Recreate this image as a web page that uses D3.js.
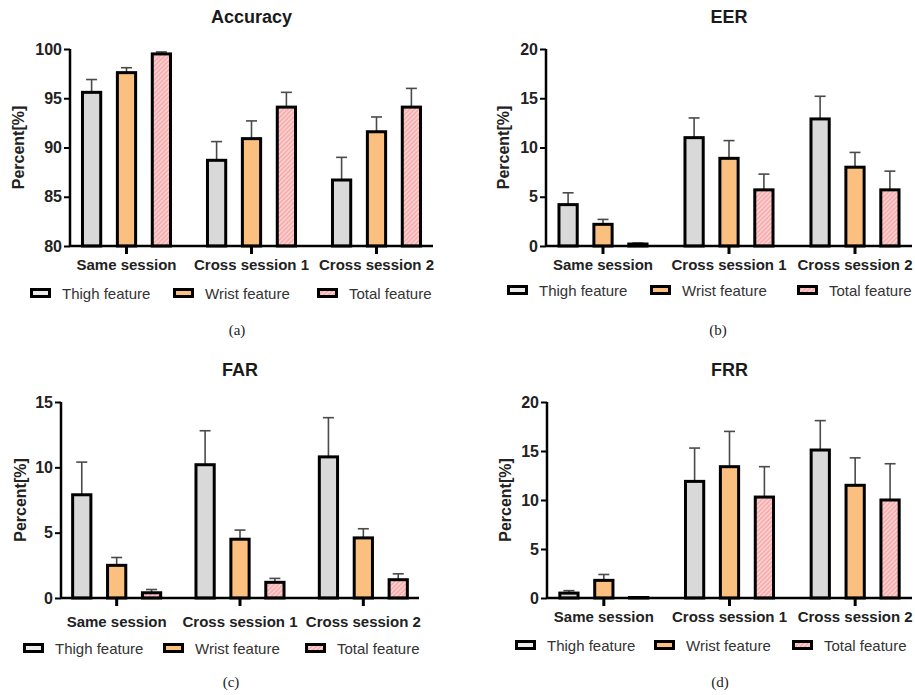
<!DOCTYPE html>
<html>
<head>
<meta charset="utf-8">
<script src="https://cdn.jsdelivr.net/npm/d3@7"></script>
<style>
  html, body { margin: 0; padding: 0; background: #fff; }
  svg { display: block; }
  text { font-family: "Liberation Sans", Arial, sans-serif; }
</style>
</head>
<body>
<svg id="fig" width="915" height="695"></svg>
<script>
// Sessions on the x axis and the three feature sets in each group
const categories = ["Same session", "Cross session 1", "Cross session 2"];
const seriesNames = ["Thigh feature", "Wrist feature", "Total feature"];
const seriesFill = ["#d9d9d9", "#fbbf80", "url(#hatchPink)"];
const legendFill = ["#ececec", "#fbbf80", "url(#hatchPink)"];

// Means per series (rows) and session (columns), with upper error (SD)
const accuracyMean = [[95.6, 88.7, 86.7], [97.6, 90.9, 91.6], [99.5, 94.1, 94.1]];
const accuracyErr  = [[1.3, 1.9, 2.3],   [0.5, 1.8, 1.5],   [0.2, 1.5, 1.9]];
const eerMean = [[4.2, 11.0, 12.9], [2.2, 8.9, 8.0], [0.2, 5.7, 5.7]];
const eerErr  = [[1.2, 2.0, 2.3],   [0.5, 1.8, 1.5], [0.1, 1.6, 1.9]];
const farMean = [[7.9, 10.2, 10.8], [2.5, 4.5, 4.6], [0.4, 1.2, 1.4]];
const farErr  = [[2.5, 2.6, 3.0],   [0.6, 0.7, 0.7], [0.25, 0.3, 0.45]];
const frrMean = [[0.5, 11.9, 15.1], [1.8, 13.4, 11.5], [0.05, 10.3, 10.0]];
const frrErr  = [[0.25, 3.4, 3.0],  [0.6, 3.6, 2.8],   [0.05, 3.1, 3.7]];

// Axis ranges and tick labels
const accuracyTicks = [80, 85, 90, 95, 100];
const eerTicks = [0, 5, 10, 15, 20];
const farTicks = [0, 5, 10, 15];
const frrTicks = [0, 5, 10, 15, 20];

const panels = [
  { title: "Accuracy", caption: "(a)", mean: accuracyMean, err: accuracyErr, ticks: accuracyTicks,
    box: { left: 70, top: 49, right: 433, bottom: 246 }, ylabX: 18, catDy: 19, legDy: 47,
    legX: [30, 173, 317], capX: 237, capY: 335, titleY: 23 },
  { title: "EER", caption: "(b)", mean: eerMean, err: eerErr, ticks: eerTicks,
    box: { left: 546, top: 49, right: 912, bottom: 246 }, ylabX: 503, catDy: 19, legDy: 44,
    legX: [507, 650, 797], capX: 718, capY: 335, titleY: 23 },
  { title: "FAR", caption: "(c)", mean: farMean, err: farErr, ticks: farTicks,
    box: { left: 61, top: 402, right: 419, bottom: 598 }, ylabX: 20, catDy: 24, legDy: 50,
    legX: [23, 163, 305], capX: 231, capY: 687, titleY: 376 },
  { title: "FRR", caption: "(d)", mean: frrMean, err: frrErr, ticks: frrTicks,
    box: { left: 547, top: 402, right: 912, bottom: 598 }, ylabX: 505, catDy: 19, legDy: 47,
    legX: [515, 654, 792], capX: 720, capY: 687, titleY: 376 }
];

const svg = d3.select("#fig");

// Diagonal hatch used for the "Total feature" bars
const defs = svg.append("defs");
const pat = defs.append("pattern")
  .attr("id", "hatchPink")
  .attr("patternUnits", "userSpaceOnUse")
  .attr("width", 3.2).attr("height", 3.2)
  .attr("patternTransform", "rotate(45)");
pat.append("rect").attr("width", 3.2).attr("height", 3.2).attr("fill", "#f6aeae");
pat.append("rect").attr("width", 1.3).attr("height", 3.2).attr("fill", "#fcd6d6");

panels.forEach(p => {
  const b = p.box;
  const g = svg.append("g");

  const y = d3.scaleLinear()
    .domain([p.ticks[0], p.ticks[p.ticks.length - 1]])
    .range([b.bottom, b.top]);

  const x0 = d3.scaleBand()
    .domain(categories)
    .range([b.left - 6, b.right + 6])
    .padding(0);

  const x1 = d3.scaleBand()
    .domain(seriesNames)
    .range([-52, 52])
    .paddingInner(0.42)
    .paddingOuter(0.2);

  // Bars with upper error bars
  seriesNames.forEach((s, si) => {
    categories.forEach((c, ci) => {
      const cx = x0(c) + x0.bandwidth() / 2 + x1(s) + x1.bandwidth() / 2;
      const v = p.mean[si][ci];
      const e = p.err[si][ci];
      const w = x1.bandwidth() - 2;
      g.append("line")
        .attr("x1", cx).attr("x2", cx)
        .attr("y1", y(v)).attr("y2", y(v + e))
        .attr("stroke", "#4a4a4a").attr("stroke-width", 1.6);
      g.append("line")
        .attr("x1", cx - 5.5).attr("x2", cx + 5.5)
        .attr("y1", y(v + e)).attr("y2", y(v + e))
        .attr("stroke", "#4a4a4a").attr("stroke-width", 1.6);
      g.append("rect")
        .attr("x", cx - w / 2)
        .attr("y", y(v))
        .attr("width", w)
        .attr("height", Math.max(0, y(p.ticks[0]) - y(v)))
        .attr("fill", seriesFill[si])
        .attr("stroke", "#000")
        .attr("stroke-width", 3);
    });
  });

  // Y axis
  const yAxis = d3.axisLeft(y).tickValues(p.ticks).tickSize(6).tickPadding(2).tickSizeOuter(0);
  const ya = g.append("g").attr("transform", `translate(${b.left},0)`).call(yAxis);
  ya.select(".domain").attr("stroke", "#000").attr("stroke-width", 2.5)
    .attr("d", `M0,${b.top}V${b.bottom + 1}`);
  ya.selectAll(".tick line").attr("stroke", "#000").attr("stroke-width", 2);
  ya.selectAll(".tick text")
    .attr("font-size", 16).attr("font-weight", "bold").attr("fill", "#222")
    .style("font-family", "'Liberation Sans', Arial, sans-serif");

  // X axis with heavy group ticks
  const xAxis = d3.axisBottom(x0).tickSize(8).tickPadding(4).tickSizeOuter(0);
  const xa = g.append("g").attr("transform", `translate(0,${b.bottom})`).call(xAxis);
  xa.select(".domain").attr("stroke", "#000").attr("stroke-width", 2.5)
    .attr("d", `M${b.left},0H${b.right}`);
  xa.selectAll(".tick line").attr("stroke", "#000").attr("stroke-width", 3);
  xa.selectAll(".tick text").remove();
  categories.forEach(c => {
    g.append("text")
      .attr("x", x0(c) + x0.bandwidth() / 2)
      .attr("y", b.bottom + p.catDy + 5)
      .attr("text-anchor", "middle")
      .attr("font-size", 15).attr("font-weight", "bold").attr("fill", "#222")
      .text(c);
  });

  // Title
  g.append("text")
    .attr("x", (b.left + b.right) / 2)
    .attr("y", p.titleY)
    .attr("text-anchor", "middle")
    .attr("font-size", 18).attr("font-weight", "bold").attr("fill", "#1a1a1a")
    .text(p.title);

  // Y axis label
  g.append("text")
    .attr("transform", `translate(${p.ylabX + 6},${(b.top + b.bottom) / 2}) rotate(-90)`)
    .attr("text-anchor", "middle")
    .attr("font-size", 16).attr("font-weight", "bold").attr("fill", "#222")
    .text("Percent[%]");

  // Legend
  const ly = b.bottom + p.legDy;
  seriesNames.forEach((s, si) => {
    g.append("rect")
      .attr("x", p.legX[si] + 1.5).attr("y", ly - 3.5)
      .attr("width", 18).attr("height", 7)
      .attr("fill", legendFill[si]).attr("stroke", "#000").attr("stroke-width", 3);
    g.append("text")
      .attr("x", p.legX[si] + 32).attr("y", ly + 5.5)
      .attr("font-size", 15).attr("fill", "#333")
      .text(s);
  });

  // Panel caption
  g.append("text")
    .attr("x", p.capX).attr("y", p.capY)
    .attr("text-anchor", "middle")
    .attr("font-size", 15).attr("fill", "#222")
    .style("font-family", "'Liberation Serif', 'Times New Roman', serif")
    .text(p.caption);
});
</script>
</body>
</html>
